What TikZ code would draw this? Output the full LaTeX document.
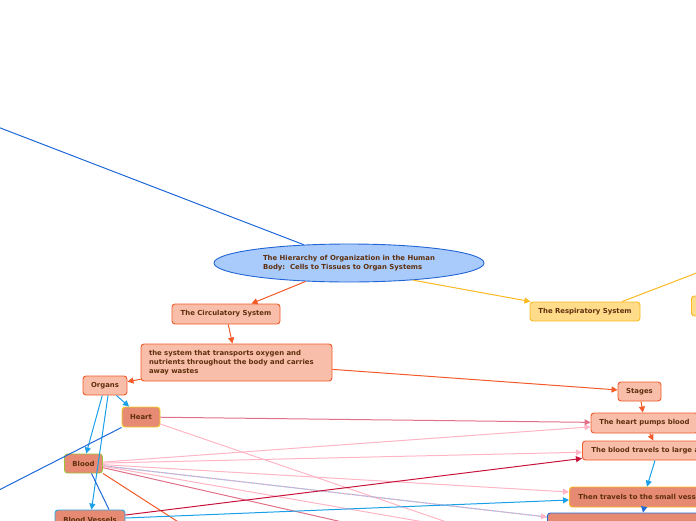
\documentclass[tikz,border=0pt]{standalone}
\usepackage{fontspec}
\setmainfont{DejaVu Sans}
\usepackage{xcolor}
\definecolor{topicBlue}{HTML}{A9CBFC}
\definecolor{topicEdge}{HTML}{2264D4}
\definecolor{textBrown}{HTML}{5E2F0D}
\definecolor{salmonBg}{HTML}{F9BEAA}
\definecolor{salmonDark}{HTML}{E68A73}
\definecolor{orangeEdge}{HTML}{F25A29}
\definecolor{yellowBg}{HTML}{FFDC8A}
\definecolor{yellowEdge}{HTML}{F9B920}
\definecolor{heartEdge}{HTML}{F0D32C}
\definecolor{greenEdge}{HTML}{9CC23C}
\definecolor{skyEdge}{HTML}{2AA5E6}
\definecolor{royalBlue}{HTML}{1F68D8}
\definecolor{skyLine}{HTML}{1AA0E8}
\definecolor{pinkLine}{HTML}{FFB5C5}
\definecolor{rosyLine}{HTML}{E07088}
\definecolor{crimsonLine}{HTML}{C8143C}
\definecolor{stripeBlue}{HTML}{8DB6E6}
\usepackage{tikz}
\usetikzlibrary{arrows.meta,shapes.geometric}
\tikzset{
  topicnode/.style={
    ellipse,
    draw=topicEdge,
    fill=topicBlue,
    line width=0.9pt,
    minimum width=270pt,
    minimum height=38pt,
    align=left,
    font=\fontsize{6.9}{8.5}\selectfont\bfseries,
    text=textBrown,
    inner sep=0pt
  },
  subbox/.style={
    draw=orangeEdge,
    fill=salmonBg,
    rounded corners=3pt,
    line width=0.9pt,
    font=\fontsize{6.9}{9}\selectfont\bfseries,
    text=textBrown,
    minimum height=20pt,
    inner xsep=8pt,
    inner ysep=0pt
  },
  darkbox/.style={subbox, fill=salmonDark},
  respbox/.style={subbox, draw=yellowEdge, fill=yellowBg},
  link/.style={line width=1pt, -{Triangle[length=6pt,width=6pt]}},
  plainlink/.style={line width=1pt}
}

\begin{document}
\begin{tikzpicture}[x=1pt,y=-1pt]
  \useasboundingbox (0,0) rectangle (696,520);
  \clip (0,0) rectangle (696,520);
  \node[topicnode] (topic) at (349,263) {The Hierarchy of Organization in the Human\\Body:\ \ Cells to Tissues to Organ Systems};
  \node[subbox, minimum width=108pt] (circ) at (226,314) {The Circulatory System};
  \node[subbox, minimum width=191pt, minimum height=37pt, align=left, text width=175pt] (desc) at (236.5,362.5) {the system that transports oxygen and\\nutrients throughout the body and carries\\away wastes};
  \node[subbox, minimum width=44pt, minimum height=19pt] (organs) at (105,385.5) {Organs};
  \node[darkbox, draw=heartEdge, minimum width=38pt] (heart) at (141,417) {Heart};
  \node[darkbox, draw=greenEdge, minimum width=37pt, minimum height=19pt] (blood) at (83.5,463.5) {Blood};
  \node[darkbox, draw=skyEdge, minimum width=70pt] (vessels) at (90,520) {Blood Vessels};
  \node[respbox, minimum width=110pt, minimum height=19pt] (resp) at (585,311.5) {The Respiratory System};
  \node[respbox, minimum width=60pt, anchor=west] (respnext) at (691,306) {};
  \node[subbox, minimum width=43pt, minimum height=19pt] (stages) at (639.5,391.5) {Stages};
  \node[subbox, minimum width=107pt] (pumps) at (644.5,423) {The heart pumps blood};
  \node[subbox, anchor=west, inner xsep=9pt, minimum height=19pt] (travels) at (582,450.5) {The blood travels to large arteries};
  \node[darkbox, draw=yellowEdge, anchor=west, inner xsep=9pt] (smallves) at (569,497) {Then travels to the small vessels};
  \node[darkbox, draw=royalBlue, anchor=west, minimum width=200pt] (capill) at (547,523) {};
  \coordinate (offnw) at (-10,124);
  \coordinate (offne) at (720,264);
  \coordinate (offsw) at (-10,494.6);
  \coordinate (offse) at (470,530);
  \coordinate (offrosy) at (360,526);
  \coordinate (offpink) at (447,526);
  \coordinate (offorange) at (183,525);
  \draw[plainlink, royalBlue] (topic.158) -- (offnw);
  \draw[link, orangeEdge] (topic.203) -- (circ);
  \draw[link, yellowEdge] (topic.345) -- (resp);
  \draw[plainlink, yellowEdge] (resp.15) -- (offne);
  \foreach \source/\target in {circ/desc,desc/stages,desc/organs,stages/pumps,pumps/travels}{\draw[link, orangeEdge] (\source) -- (\target);}
  \draw[link, skyLine] ([xshift=73pt]travels.south west) -- ([xshift=78pt]smallves.north west);
  \draw[link, royalBlue] ([xshift=75pt]smallves.south west) -- ([xshift=96pt]capill.north west);
  \foreach \target in {heart,blood}{\draw[link, skyLine] (organs) -- (\target);}
  \draw[link, skyLine] ([xshift=3pt]organs.south) -- (vessels);
  \draw[plainlink, royalBlue] (heart.south west) -- (offsw);
  \draw[plainlink, royalBlue] ([xshift=8pt]blood.south) -- ([xshift=19pt]vessels.north);
  \draw[link, rosyLine] (heart) -- (pumps);
  \draw[plainlink, pinkLine] (heart.-20) -- (offse);
  \foreach \target in {pumps,travels}{\draw[link, pinkLine] (blood) -- (\target);}
  \draw[link, pinkLine] (blood) -- ([yshift=5pt]smallves.west);
  \draw[plainlink, stripeBlue] (blood) -- ([yshift=6pt]capill.west);
  \draw[link, pinkLine, dash pattern=on 1.5pt off 1.5pt] (blood) -- ([yshift=6pt]capill.west);
  \draw[plainlink, rosyLine] (blood.-12) -- (offrosy);
  \draw[plainlink, pinkLine] (blood.-8) -- (offpink);
  \draw[plainlink, orangeEdge] (blood.south east) -- (offorange);
  \draw[link, crimsonLine] ([yshift=5pt]vessels.east) -- ([yshift=2pt]travels.south west);
  \draw[link, skyLine] ([yshift=2pt]vessels.east) -- ([yshift=-3pt]smallves.west);
\end{tikzpicture}
\end{document}
